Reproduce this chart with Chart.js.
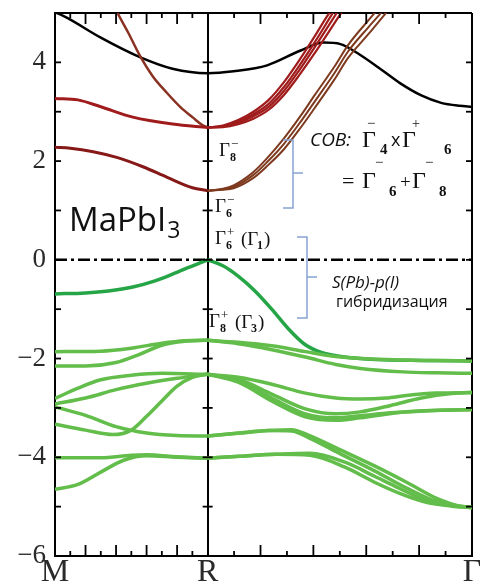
<!DOCTYPE html>
<html><head><meta charset="utf-8">
<script src="https://cdn.jsdelivr.net/npm/chart.js@4.4.1/dist/chart.umd.min.js"></script>
<style>html,body{margin:0;padding:0;background:#fff}#wrap{width:480px;height:586px;position:relative}</style>
</head><body><div id="wrap"><canvas id="c" width="480" height="586"></canvas></div>
<script>
// ---- axis / category data ----
const kTickValues = [0, 1, 2.732];
const kTickLabels = ['M', 'R', 'Γ'];
const yTickValues = [-6, -4, -2, 0, 2, 4];
const yTickLabels = ['−6', '−4', '−2', '0', '2', '4'];

// ---- conduction bands ([k, E]) ----
const blackBand = [[0,5.02],[0.08,4.9],[0.3,4.5],[0.56,4.1],[0.77,3.87],[1,3.78],[1.17,3.82],[1.39,3.94],[1.61,4.24],[1.76,4.4],[1.87,4.37],[2.0,4.15],[2.13,3.87],[2.26,3.58],[2.4,3.33],[2.53,3.18],[2.65,3.12],[2.732,3.1]];
const brownMR = [[0.38,5.2],[0.41,5.0],[0.48,4.6],[0.557,4.13],[0.64,3.72],[0.734,3.38],[0.82,3.1],[0.904,2.88],[0.96,2.74],[1,2.68]];
const redMR = [[0,3.27],[0.15,3.24],[0.3,3.1],[0.51,2.89],[0.77,2.75],[1,2.68]];
const darkMR = [[0,2.28],[0.1,2.26],[0.25,2.19],[0.41,2.07],[0.58,1.88],[0.735,1.67],[0.9,1.46],[1,1.4]];
const redR1 = [[1,2.68],[1.1,2.72],[1.2,2.83],[1.3,3.0],[1.4,3.24],[1.5,3.6],[1.6,4.04],[1.7,4.52],[1.78,4.92],[1.82,5.1]];
const redR2 = [[1,2.68],[1.1,2.71],[1.2,2.8],[1.3,2.95],[1.4,3.16],[1.5,3.5],[1.6,3.93],[1.7,4.4],[1.8,4.9],[1.84,5.1]];
const redR3 = [[1,2.68],[1.1,2.7],[1.2,2.78],[1.3,2.91],[1.4,3.1],[1.5,3.42],[1.6,3.84],[1.7,4.3],[1.8,4.78],[1.87,5.12]];
const redR4 = [[1,2.68],[1.1,2.69],[1.2,2.75],[1.3,2.86],[1.4,3.04],[1.5,3.34],[1.6,3.74],[1.7,4.18],[1.8,4.65],[1.9,5.12]];
const brownR1 = [[1,1.4],[1.1,1.44],[1.17,1.51],[1.3,1.78],[1.39,2.06],[1.5,2.46],[1.61,2.92],[1.7,3.33],[1.83,3.91],[1.92,4.35],[2.05,4.84],[2.15,5.2]];
const brownR2 = [[1,1.4],[1.1,1.43],[1.17,1.48],[1.3,1.72],[1.39,1.98],[1.5,2.35],[1.61,2.8],[1.7,3.2],[1.83,3.78],[1.92,4.22],[2.05,4.7],[2.18,5.15]];
const brownR3 = [[1,1.4],[1.1,1.42],[1.17,1.45],[1.3,1.66],[1.39,1.9],[1.5,2.24],[1.61,2.68],[1.7,3.07],[1.83,3.65],[1.92,4.09],[2.05,4.56],[2.2,5.12]];

// ---- valence bands ([k, E]) ----
const topMR = [[0,-0.69],[0.2,-0.67],[0.35,-0.63],[0.51,-0.55],[0.65,-0.43],[0.77,-0.29],[0.88,-0.15],[0.95,-0.06],[1,0]];
const topRG = [[1,0],[1.1,-0.12],[1.2,-0.33],[1.31,-0.63],[1.42,-1.0],[1.53,-1.4],[1.64,-1.72],[1.75,-1.88],[1.9,-1.97],[2.1,-2.02],[2.4,-2.04],[2.732,-2.05]];
const gA = [[0,-1.86],[0.3,-1.85],[0.5,-1.79],[0.7,-1.69],[0.85,-1.64],[1,-1.63]];
const gB = [[0,-2.15],[0.2,-2.15],[0.4,-2.08],[0.55,-1.92],[0.7,-1.73],[0.85,-1.65],[1,-1.63]];
const gC = [[0,-2.81],[0.15,-2.6],[0.3,-2.43],[0.5,-2.34],[0.7,-2.3],[1,-2.32]];
const gD = [[0,-2.92],[0.2,-2.8],[0.4,-2.63],[0.6,-2.5],[0.8,-2.4],[1,-2.32]];
const gE = [[0,-2.98],[0.2,-3.15],[0.4,-3.38],[0.6,-3.51],[0.8,-3.56],[1,-3.57]];
const gF = [[0,-3.33],[0.2,-3.45],[0.38,-3.54],[0.5,-3.45],[0.6,-3.17],[0.7,-2.86],[0.8,-2.56],[0.9,-2.38],[1,-2.32]];
const gG = [[0,-4.01],[0.3,-4.01],[0.5,-3.96],[0.6,-3.95],[0.8,-3.99],[1,-4.02]];
const gH = [[0,-4.65],[0.15,-4.55],[0.3,-4.3],[0.45,-4.06],[0.6,-3.97],[0.8,-4.0],[1,-4.02]];
const rA = [[1,-1.63],[1.2,-1.67],[1.42,-1.74],[1.64,-1.86],[1.84,-1.96],[2.0,-2.0],[2.28,-2.03],[2.5,-2.04],[2.732,-2.05]];
const rB = [[1,-1.63],[1.2,-1.7],[1.42,-1.82],[1.64,-1.97],[1.84,-2.12],[2.0,-2.2],[2.28,-2.27],[2.5,-2.29],[2.732,-2.3]];
const rC = [[1,-2.32],[1.2,-2.38],[1.42,-2.52],[1.64,-2.7],[1.84,-2.8],[2.0,-2.82],[2.17,-2.8],[2.3,-2.75],[2.5,-2.7],[2.732,-2.69]];
const rD = [[1,-2.32],[1.2,-2.42],[1.42,-2.72],[1.64,-3.02],[1.84,-3.12],[2.0,-3.08],[2.2,-2.95],[2.4,-2.8],[2.6,-2.71],[2.732,-2.69]];
const rE = [[1,-2.32],[1.2,-2.45],[1.42,-2.8],[1.64,-3.12],[1.84,-3.2],[2.0,-3.16],[2.2,-3.1],[2.5,-3.05],[2.732,-3.03]];
const rF = [[1,-2.32],[1.2,-2.48],[1.42,-2.86],[1.64,-3.18],[1.84,-3.25],[2.0,-3.2],[2.3,-3.08],[2.732,-3.03]];
const rG = [[1,-3.57],[1.21,-3.51],[1.4,-3.46],[1.55,-3.44],[1.66,-3.55],[1.87,-3.85],[2.09,-4.17],[2.3,-4.5],[2.52,-4.86],[2.65,-4.99],[2.732,-5.02]];
const rH = [[1,-3.57],[1.21,-3.51],[1.4,-3.46],[1.55,-3.47],[1.66,-3.6],[1.87,-3.93],[2.09,-4.27],[2.3,-4.62],[2.52,-4.92],[2.732,-5.02]];
const rI = [[1,-4.02],[1.21,-3.98],[1.45,-3.94],[1.67,-3.92],[1.9,-4.1],[2.09,-4.38],[2.25,-4.62],[2.42,-4.86],[2.6,-4.98],[2.732,-5.02]];
const rJ = [[1,-4.02],[1.21,-3.98],[1.45,-3.94],[1.67,-3.96],[1.9,-4.2],[2.09,-4.5],[2.25,-4.72],[2.42,-4.9],[2.6,-4.99],[2.732,-5.02]];
const fermiLine = [[0,0],[2.732,0]];

const LIGHT = '#62bd4a', TOPG = '#25a546', RED = '#a01c1c', DARKRED = '#861818', BROWN = '#7d3a1e';
function ds(arr, color, w, extra) {
  return Object.assign({data: arr.map(p => ({x: p[0], y: p[1]})), borderColor: color, borderWidth: w,
    pointRadius: 0, fill: false, cubicInterpolationMode: 'monotone'}, extra || {});
}
const datasets = [
  ...[gA,gB,gC,gD,gE,gF,gG,gH,rA,rB,rC,rD,rE,rF,rG,rH,rI,rJ].map(a => ds(a, LIGHT, 3.5)),
  ds(topMR, TOPG, 3.5), ds(topRG, TOPG, 3.5),
  ds(fermiLine, '#000', 2.5, {borderDash: [12, 4, 3, 4], cubicInterpolationMode: 'default', tension: 0}),
  ds(darkMR, DARKRED, 3), ds(brownR1, BROWN, 2), ds(brownR2, BROWN, 2), ds(brownR3, BROWN, 2),
  ds(redMR, RED, 3), ds(brownMR, '#8a3222', 2.5),
  ds(redR1, RED, 2.2), ds(redR2, RED, 2.2), ds(redR3, RED, 2.2), ds(redR4, RED, 2.2),
  ds(blackBand, '#000', 2.5)
];

const inTicks = {
  id: 'inTicks',
  afterDraw(chart) {
    const {ctx, chartArea: a, scales: {x, y}} = chart;
    ctx.save(); ctx.strokeStyle = '#000'; ctx.lineWidth = 1.8;
    const L = (x1, y1, x2, y2) => { ctx.beginPath(); ctx.moveTo(x1, y1); ctx.lineTo(x2, y2); ctx.stroke(); };
    const rx = x.getPixelForValue(kTickValues[1]);
    for (let v = -5; v <= 4; v++) {
      const py = y.getPixelForValue(v);
      L(a.left, py, a.left + 6, py); L(a.right, py, a.right - 6, py); L(rx - 5, py, rx + 5, py);
    }
    const seg = [[kTickValues[0], kTickValues[1]], [kTickValues[1], kTickValues[2]]];
    for (const [s, e] of seg) for (let i = 1; i < 10; i++) {
      const len = i % 2 === 0 ? 11 : 5;
      const px = x.getPixelForValue(s + (e - s) * i / 10);
      L(px, a.bottom, px, a.bottom - len); L(px, a.top, px, a.top + len);
    }
    ctx.restore();
  }
};

const notes = {
  id: 'notes',
  afterDraw(chart) {
    const {ctx, scales: {x, y}} = chart;
    // reference-pixel -> data -> canvas pixel
    const X = px => x.getPixelForValue((px - 55) / (417 / 2.732));
    const Y = py => y.getPixelForValue(5 - (py - 13) / (543 / 11));
    const T = (s, px, py, font, col) => { ctx.font = font; ctx.fillStyle = col || '#111'; ctx.fillText(s, X(px), Y(py)); };
    ctx.save(); ctx.textBaseline = 'alphabetic'; ctx.textAlign = 'left';
    const SERIF = '"Liberation Serif", "DejaVu Serif", serif';
    const SANS = '"Open Sans", "Noto Sans", sans-serif';
    // MaPbI3
    T('MaPbI', 69, 231, '33px ' + SANS);
    ctx.font = '33px ' + SANS; const w = ctx.measureText('MaPbI').width;
    T('3', 69 + w + 1, 238, '23px ' + SANS);
    // Gamma labels at R
    const G = (px, py, sub, sup, tail) => {
      T('Γ', px, py, '19px ' + SERIF);
      T(sup, px + 12, py - 8, '13px ' + SERIF);
      T(sub, px + 11, py + 5, 'bold 12px ' + SERIF);
      if (tail) {
        T('(Γ', px + 26, py + 1, '19px ' + SERIF);
        T(tail, px + 42, py + 5, 'bold 12px ' + SERIF);
        T(')', px + 49, py + 1, '19px ' + SERIF);
      }
    };
    G(219, 156, '8', '−');
    G(215, 212, '6', '−');
    G(215, 244, '6', '+', '1');
    G(209, 327, '8', '+', '3');
    // COB formula
    T('COB:', 310, 146, 'italic 19px ' + SANS);
    T('Γ', 362, 147, '24px ' + SERIF);
    T('−', 367, 128, '15px ' + SERIF);
    T('4', 380, 154, 'bold 15px ' + SERIF);
    T('x', 391, 146, '18px ' + SANS);
    T('Γ', 402, 147, '24px ' + SERIF);
    T('+', 412, 128, '14px ' + SERIF);
    T('6', 444, 154, 'bold 15px ' + SERIF);
    T('=', 342, 188, '22px ' + SERIF);
    T('Γ', 362, 188, '24px ' + SERIF);
    T('−', 375, 167, '15px ' + SERIF);
    T('6', 389, 196, 'bold 15px ' + SERIF);
    T('+', 400, 188, '19px ' + SERIF);
    T('Γ', 412, 188, '24px ' + SERIF);
    T('−', 425, 167, '15px ' + SERIF);
    T('8', 439, 196, 'bold 15px ' + SERIF);
    // hybridisation text
    T('S(Pb)-p(I)', 332, 288, 'italic 17px ' + SANS, '#111');
    T('гибридизация', 336, 307, '16px ' + SANS, '#111');
    // brackets
    ctx.strokeStyle = '#86a3d2'; ctx.lineWidth = 1.5;
    const B = (xl, xv, y1, y2, ym, xm) => {
      ctx.beginPath(); ctx.moveTo(X(xl), Y(y1)); ctx.lineTo(X(xv), Y(y1)); ctx.lineTo(X(xv), Y(y2)); ctx.lineTo(X(xl), Y(y2)); ctx.stroke();
      ctx.beginPath(); ctx.moveTo(X(xv), Y(ym)); ctx.lineTo(X(xm), Y(ym)); ctx.stroke();
    };
    B(283, 293, 140, 208, 173, 303);
    B(297, 307, 237, 318, 277, 317);
    ctx.restore();
  }
};

new Chart(document.getElementById('c'), {
  type: 'line',
  data: {datasets},
  options: {
    responsive: false, animation: false, events: [],
    layout: {padding: {top: 13, right: 8, left: 0, bottom: 0}},
    plugins: {legend: {display: false}, tooltip: {enabled: false}},
    scales: {
      x: {
        type: 'linear', min: kTickValues[0], max: kTickValues[2],
        afterBuildTicks: s => { s.ticks = kTickValues.map(v => ({value: v})); },
        afterFit: s => { s.height = 30; s.paddingLeft = 0; s.paddingRight = 0; },
        ticks: {autoSkip: false, maxRotation: 0, padding: -3, color: '#2a2a2a',
          font: {family: '"Liberation Serif", serif', size: 32},
          callback: (v, i) => kTickLabels[i]},
        grid: {drawTicks: false, color: c => '#000', lineWidth: 2},
        border: {display: true, color: '#000', width: 2}
      },
      y: {
        type: 'linear', min: -6, max: 5,
        ticks: {stepSize: 1, padding: 9, color: '#2a2a2a',
          font: {family: '"Liberation Serif", serif', size: 27},
          callback: v => { const i = yTickValues.indexOf(v); return i >= 0 ? yTickLabels[i] : ''; }},
        afterFit: s => { s.width = 55; s.paddingTop = 0; s.paddingBottom = 0; },
        grid: {drawTicks: false, color: c => (c.tick && c.tick.value === 5) ? '#000' : 'rgba(0,0,0,0)', lineWidth: c => (c.tick && c.tick.value === 5) ? 2 : 0},
        border: {display: true, color: '#000', width: 2}
      }
    }
  },
  plugins: [inTicks, notes]
});
</script></body></html>
